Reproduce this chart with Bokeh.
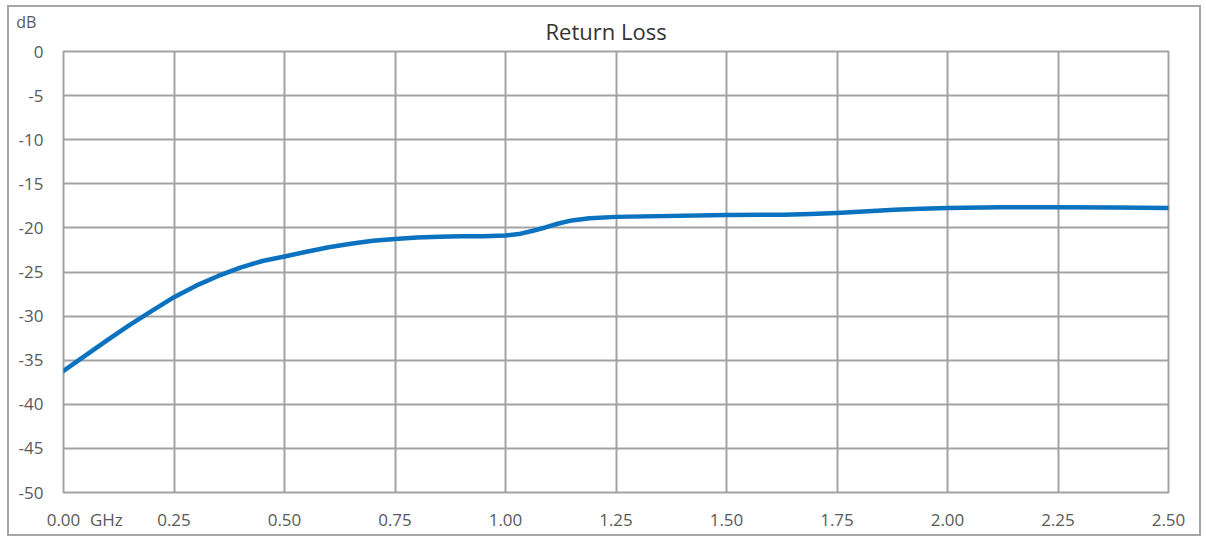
from bokeh.plotting import figure
from bokeh.models import Range1d, FixedTicker, Label, Title
from bokeh.embed import file_html
from bokeh.resources import INLINE

# ---- data ----
freq_ghz = [0.0, 0.05, 0.1, 0.15, 0.2, 0.25, 0.3, 0.35, 0.4, 0.45,
            0.5, 0.55, 0.6, 0.65, 0.7, 0.75, 0.8, 0.85, 0.9, 0.95,
            1.0, 1.03, 1.06, 1.09, 1.12, 1.15, 1.19, 1.25, 1.5, 1.63,
            1.69, 1.75, 1.82, 1.88, 1.94, 2.0, 2.12, 2.25, 2.38, 2.5]
return_loss_db = [-36.2, -34.45, -32.7, -31.0, -29.4, -27.85, -26.55, -25.45, -24.5, -23.75,
                  -23.25, -22.7, -22.2, -21.8, -21.45, -21.25, -21.1, -21.0, -20.95, -20.95,
                  -20.85, -20.7, -20.35, -19.95, -19.5, -19.15, -18.9, -18.75, -18.55, -18.5,
                  -18.42, -18.3, -18.1, -17.95, -17.83, -17.75, -17.65, -17.65, -17.7, -17.75]

x_ticks = [0.0, 0.25, 0.5, 0.75, 1.0, 1.25, 1.5, 1.75, 2.0, 2.25, 2.5]
x_tick_labels = ["0.00", "0.25", "0.50", "0.75", "1.00", "1.25", "1.50", "1.75", "2.00", "2.25", "2.50"]
y_ticks = [0, -5, -10, -15, -20, -25, -30, -35, -40, -45, -50]
y_tick_labels = ["0", "-5", "-10", "-15", "-20", "-25", "-30", "-35", "-40", "-45", "-50"]

title_text = "Return Loss"
y_unit = "dB"
x_unit = "GHz"
x_unit_at = 0.097          # position of the x unit text along the x axis (GHz)
y_unit_at = (-0.084, 3.4)  # position of the y unit text (GHz, dB)

GRID = "#a3a3a3"
LABEL = "#595959"
FONT = "Open Sans"

p = figure(width=1194, height=531, output_backend="svg", toolbar_location=None,
           x_range=Range1d(0, 2.5), y_range=Range1d(-50, 0),
           min_border_left=54, min_border_right=35, min_border_top=43, min_border_bottom=46,
           background_fill_color="white", border_fill_color="white")
p.styles = {"border": "2px solid #a6a6a6", "margin-left": "7px", "margin-top": "5px"}

p.title = Title(text=title_text, align="left", offset=482, standoff=12,
                text_font=FONT, text_font_size="22px", text_font_style="normal",
                text_color="#333333")

p.line(freq_ghz, return_loss_db, line_color="#0a72bf", line_width=4.5, line_join="round", line_cap="round")

p.xaxis.ticker = FixedTicker(ticks=x_ticks + [x_unit_at])
p.yaxis.ticker = FixedTicker(ticks=y_ticks)
overrides = {t: l for t, l in zip(x_ticks, x_tick_labels)}
overrides[x_unit_at] = x_unit
p.xaxis.major_label_overrides = overrides
p.yaxis.major_label_overrides = {t: l for t, l in zip(y_ticks, y_tick_labels)}

for ax in (p.xaxis, p.yaxis):
    ax.axis_line_color = None
    ax.major_tick_line_color = None
    ax.minor_tick_line_color = None
    ax.major_label_text_font = FONT
    ax.major_label_text_font_size = "17px"
    ax.major_label_text_color = LABEL
p.xaxis.major_label_standoff = 9
p.yaxis.major_label_standoff = 14

p.xgrid.ticker = FixedTicker(ticks=x_ticks)
p.ygrid.ticker = FixedTicker(ticks=y_ticks)
p.xgrid.grid_line_color = GRID
p.ygrid.grid_line_color = GRID
p.xgrid.grid_line_width = 2
p.ygrid.grid_line_width = 2
p.outline_line_color = GRID
p.outline_line_width = 2

# unit text placed via a side panel (centre annotations are clipped to the frame)
p.add_layout(Label(x=y_unit_at[0], y=y_unit_at[1], x_units="data", y_units="data", text=y_unit,
                   text_align="center", text_baseline="middle",
                   text_font=FONT, text_font_size="16px", text_color=LABEL), "right")

open("out.html", "w").write(file_html(p, INLINE))
